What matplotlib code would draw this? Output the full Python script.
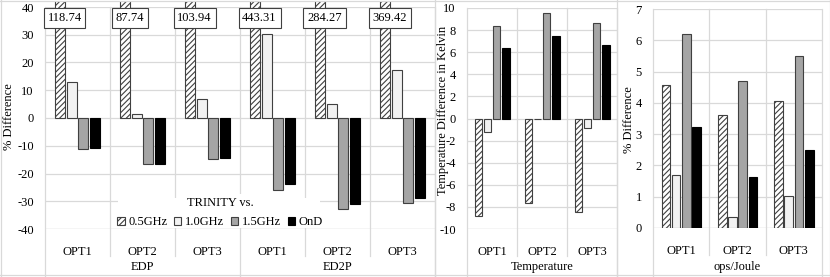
import matplotlib
matplotlib.use("Agg")
import matplotlib.pyplot as plt
from matplotlib.patches import Patch, Rectangle
from matplotlib.lines import Line2D
from matplotlib.transforms import Bbox, TransformedBbox
import numpy as np

plt.rcParams['font.family'] = ['Liberation Serif', 'DejaVu Serif']
plt.rcParams['axes.unicode_minus'] = False
plt.rcParams['hatch.linewidth'] = 0.8

series = ["0.5GHz", "1.0GHz", "1.5GHz", "OnD"]
opts = ["OPT1", "OPT2", "OPT3"]

# Panel 1: EDP and ED2P (% difference)
edp_groups = ["EDP", "ED2P"]
edp_05 = [118.74, 87.74, 103.94]
edp_10 = [12.9, 1.5, 6.8]
edp_15 = [-11.2, -16.7, -14.7]
edp_ond = [-10.8, -16.6, -14.4]
ed2p_05 = [443.31, 284.27, 369.42]
ed2p_10 = [30.3, 4.9, 17.2]
ed2p_15 = [-26.0, -32.9, -30.5]
ed2p_ond = [-23.9, -31.0, -28.7]

# Panel 2: Temperature difference in Kelvin
temp_05 = [-8.83, -7.68, -8.5]
temp_10 = [-1.2, -0.05, -0.84]
temp_15 = [8.37, 9.52, 8.67]
temp_ond = [6.36, 7.5, 6.66]

# Panel 3: ops/Joule (% difference)
opj_05 = [4.56, 3.6, 4.07]
opj_10 = [1.69, 0.34, 1.02]
opj_15 = [6.2, 4.69, 5.5]
opj_ond = [3.23, 1.62, 2.49]

W, H = 830, 277
fig = plt.figure(figsize=(W / 100, H / 100), dpi=100)

GRID = '#d9d9d9'
EDGE = '#404040'
styles = [
    dict(facecolor='white', edgecolor=EDGE, hatch='//////'),
    dict(facecolor='#f2f2f2', edgecolor=EDGE),
    dict(facecolor='#a5a5a5', edgecolor=EDGE),
    dict(facecolor='black', edgecolor='black'),
]
offsets = [-0.27, -0.09, 0.09, 0.275]
BW = 0.155
FS = 9
LFS = 9


def px_axes(x0, x1, ytop, ybot):
    return fig.add_axes([x0 / W, 1 - ybot / H, (x1 - x0) / W, (ybot - ytop) / H])


def draw_panel(ax, data, ylim, yticks, cat_labels, ytop, ybot, group_bounds, overshoot=0):
    n = len(cat_labels)
    x = np.arange(n)
    h = ybot - ytop
    for i, vals in enumerate(data):
        bars = ax.bar(x + offsets[i], vals, BW, linewidth=0.8, zorder=3, **styles[i])
        if overshoot:
            cb = TransformedBbox(Bbox([[0, -0.05], [1, 1 + overshoot / h]]), ax.transAxes)
            for b in bars:
                b.set_clip_box(cb)
    ax.set_xlim(-0.5, n - 0.5)
    ax.set_ylim(*ylim)
    ax.set_yticks(yticks)
    ax.set_yticklabels([f"{t:g}" for t in yticks], fontsize=FS)
    ax.set_xticks(x)
    ax.set_xticklabels(cat_labels, fontsize=FS)
    ax.tick_params(axis='both', length=0, colors='black')
    ax.tick_params(axis='x', pad=12)
    ax.tick_params(axis='y', pad=8)
    for s in ax.spines.values():
        s.set_visible(False)
    ax.yaxis.grid(True, color=GRID, linewidth=0.9, zorder=0)
    ax.set_axisbelow(True)
    # category boundary lines
    for b in np.arange(-0.5, n, 1.0):
        if b in group_bounds:
            yb = -(H - ybot) / h
        else:
            yb = -27 / h
        ax.plot([b, b], [1, yb], color=GRID, linewidth=0.9,
                transform=ax.get_xaxis_transform(), clip_on=False, zorder=1)
    ax.axhline(ylim[0], color=GRID, linewidth=0.9, zorder=1)


# Panel 1
ax1 = px_axes(45, 435, 7, 229)
cats1 = opts + opts
data1 = [edp_05 + ed2p_05, edp_10 + ed2p_10, edp_15 + ed2p_15, edp_ond + ed2p_ond]
draw_panel(ax1, data1, (-40, 40), list(range(-40, 41, 10)), cats1, 7, 229, [-0.5, 2.5, 5.5],
           overshoot=6)
for i, v in enumerate(edp_05 + ed2p_05):
    ax1.text(i + offsets[0] + 0.07, 36.0, f"{v:.2f}", ha='center', va='center', fontsize=FS,
             zorder=5, bbox=dict(boxstyle='square,pad=0.3', facecolor='white',
                                 edgecolor=EDGE, linewidth=0.8))
for gi, g in enumerate(edp_groups):
    ax1.text(1 + 3 * gi, -(267 - 229) / 222, g, transform=ax1.get_xaxis_transform(),
             ha='center', va='center', fontsize=FS)
fig.text(9 / W, 1 - 117 / H, "% Difference", rotation=90, ha='center', va='center', fontsize=FS)

# white backgrounds behind legend (title box and entries box)
fig.add_artist(Rectangle((192 / W, 1 - 211 / H), 71 / W, 17 / H, transform=fig.transFigure,
                         facecolor='white', edgecolor='none', zorder=1.5))
fig.add_artist(Rectangle((118 / W, 1 - 228 / H), 202 / W, 30 / H, transform=fig.transFigure,
                         facecolor='white', edgecolor='none', zorder=1.5))

handles = [Patch(linewidth=0.8, **styles[i]) for i in range(4)]
leg = fig.legend(handles, series, ncol=4, loc='center', bbox_to_anchor=(220 / W, 1 - 212.5 / H),
                 title="TRINITY vs.", fontsize=LFS, title_fontsize=LFS, frameon=False,
                 handlelength=0.58, handleheight=0.58, handletextpad=0.28, columnspacing=0.55,
                 borderpad=0.1, labelspacing=0.6, borderaxespad=0)
leg.set_zorder(6)

# Panel 2
ax2 = px_axes(467, 617, 8, 229)
draw_panel(ax2, [temp_05, temp_10, temp_15, temp_ond], (-10, 10), list(range(-10, 11, 2)),
           opts, 8, 229, [-0.5, 2.5])
ax2.text(1, -(267 - 229) / 221, "Temperature", transform=ax2.get_xaxis_transform(),
         ha='center', va='center', fontsize=FS)
fig.text(443 / W, 1 - 110 / H, "Temperature Difference in Kelvin", rotation=90,
         ha='center', va='center', fontsize=FS)

# Panel 3
ax3 = px_axes(653, 822, 9, 228)
draw_panel(ax3, [opj_05, opj_10, opj_15, opj_ond], (0, 7), list(range(0, 8)),
           opts, 9, 228, [-0.5, 2.5])
ax3.text(1, -(267 - 228) / 219, "ops/Joule", transform=ax3.get_xaxis_transform(),
         ha='center', va='center', fontsize=FS)
fig.text(629 / W, 1 - 120 / H, "% Difference", rotation=90, ha='center', va='center', fontsize=FS)

# panel frames
for xb in [0.5, 435, 617, 829.5]:
    fig.add_artist(Line2D([xb / W, xb / W], [0, 1], color=GRID, linewidth=0.9))
for yb in [0.5, 275]:
    fig.add_artist(Line2D([0, 1], [1 - yb / H, 1 - yb / H], color=GRID, linewidth=0.9))

fig.savefig("out.png", dpi=100)
